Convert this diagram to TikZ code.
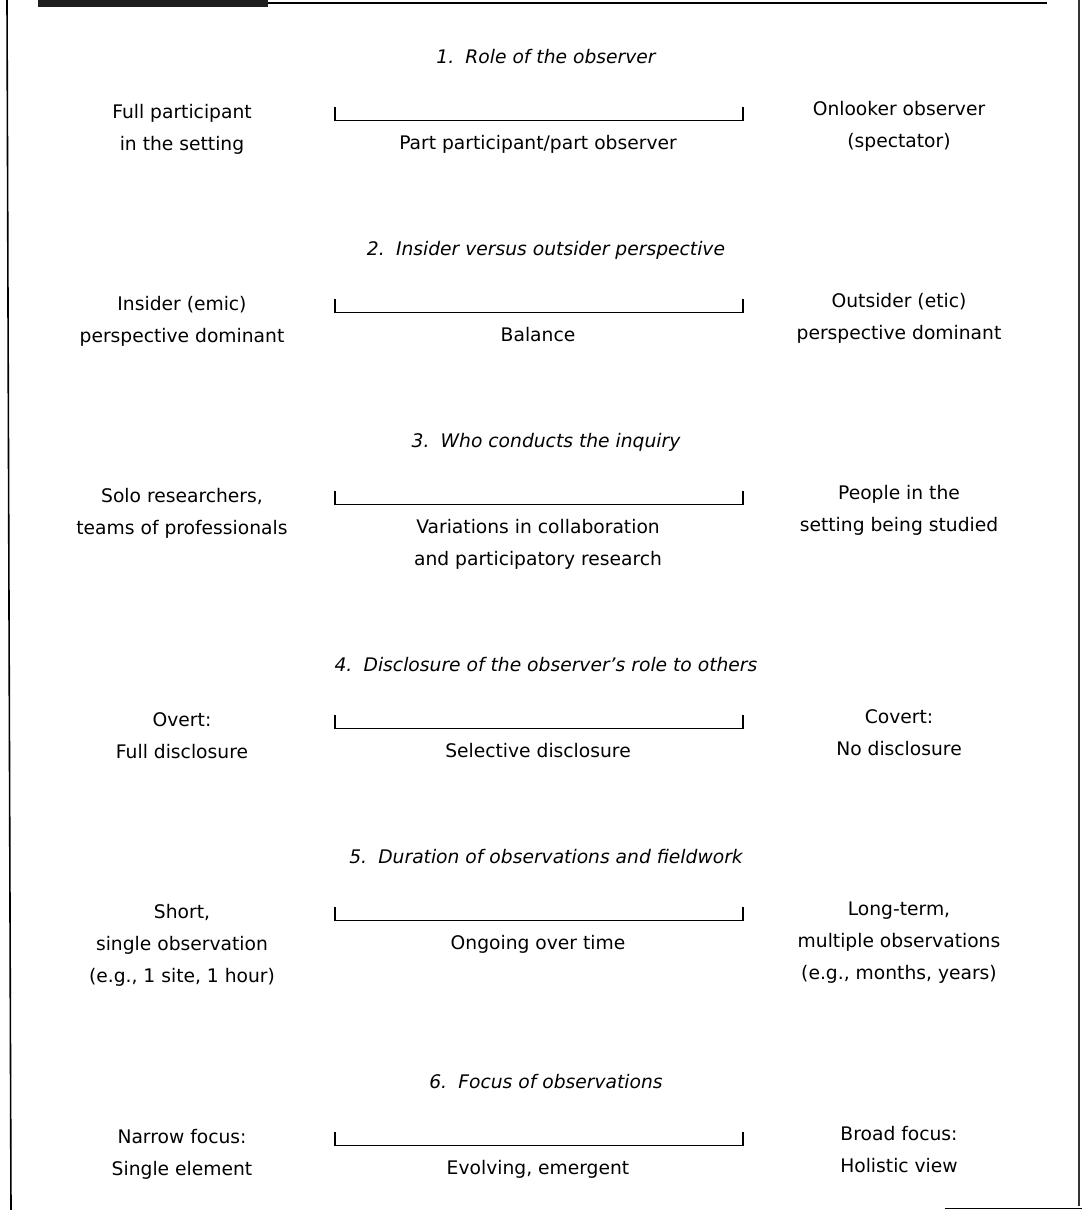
\documentclass[tikz,border=0pt]{standalone}
\usepackage{fontspec}
\setmainfont{DejaVu Sans}
\begin{document}
\begin{tikzpicture}[x=1pt,y=-1pt,
  txt/.style={inner sep=0pt,anchor=base,font=\fontsize{18.7}{32}\selectfont},
  ttl/.style={txt,font=\fontsize{18.7}{32}\selectfont\itshape},
  scaleline/.style={line width=1.3pt,black},
  tickmark/.style={line width=1.6pt,black},
  frameline/.style={line width=1.6pt,black}]
\useasboundingbox (0,0) rectangle (1082,1210);

% page frame with the dark tab at the top left
\fill[black!88] (38,0) rectangle (268,6.5);
\draw[frameline] (268,3) -- (1047,3);
\draw[frameline] (7,0) -- (11,1210);
\draw[line width=1.4pt,black!80] (1079,0) -- (1079,1206);
\draw[frameline] (945,1208.5) -- (1082,1208.5);

% one continuum: end coordinates and tick marks
\newcommand\continuum[2]{%
  \coordinate (#1-l) at (335,#2);
  \coordinate (#1-r) at (743,#2);
  \draw[scaleline] (#1-l) -- (#1-r);
  \draw[tickmark] (#1-l) -- ++(0,-14);
  \draw[tickmark,line width=2.2pt] (#1-r) -- ++(0,-14);}

% 1. Role of the observer (T = 58)
\node[ttl] (t1) at (546,63) {1.\hspace{0.6em}Role of the observer};
\node[txt] (l1a) at (182,118) {Full participant};
\node[txt] (l1b) at (182,150) {in the setting};
\continuum{s1}{120.5}
\node[txt] (c1a) at (538,149) {Part participant/part observer};
\node[txt] (r1a) at (899,115) {Onlooker observer};
\node[txt] (r1b) at (899,147) {(spectator)};

% 2. Insider versus outsider perspective (T = 250)
\node[ttl] (t2) at (546,255) {2.\hspace{0.6em}Insider versus outsider perspective};
\node[txt] (l2a) at (182,310) {Insider (emic)};
\node[txt] (l2b) at (182,342) {perspective dominant};
\continuum{s2}{312.5}
\node[txt] (c2a) at (538,341) {Balance};
\node[txt] (r2a) at (899,307) {Outsider (etic)};
\node[txt] (r2b) at (899,339) {perspective dominant};

% 3. Who conducts the inquiry (T = 442)
\node[ttl] (t3) at (546,447) {3.\hspace{0.6em}Who conducts the inquiry};
\node[txt] (l3a) at (182,502) {Solo researchers,};
\node[txt] (l3b) at (182,534) {teams of professionals};
\continuum{s3}{504.5}
\node[txt] (c3a) at (538,533) {Variations in collaboration};
\node[txt] (c3b) at (538,565) {and participatory research};
\node[txt] (r3a) at (899,499) {People in the};
\node[txt] (r3b) at (899,531) {setting being studied};

% 4. Disclosure of the observer's role to others (T = 666)
\node[ttl] (t4) at (546,671) {4.\hspace{0.6em}Disclosure of the observer’s role to others};
\node[txt] (l4a) at (182,726) {Overt:};
\node[txt] (l4b) at (182,758) {Full disclosure};
\continuum{s4}{728.5}
\node[txt] (c4a) at (538,757) {Selective disclosure};
\node[txt] (r4a) at (899,723) {Covert:};
\node[txt] (r4b) at (899,755) {No disclosure};

% 5. Duration of observations and fieldwork (T = 858)
\node[ttl] (t5) at (546,863) {5.\hspace{0.6em}Duration of observations and fieldwork};
\node[txt] (l5a) at (182,918) {Short,};
\node[txt] (l5b) at (182,950) {single observation};
\node[txt] (l5c) at (182,982) {(e.g., 1 site, 1 hour)};
\continuum{s5}{920.5}
\node[txt] (c5a) at (538,949) {Ongoing over time};
\node[txt] (r5a) at (899,915) {Long-term,};
\node[txt] (r5b) at (899,947) {multiple observations};
\node[txt] (r5c) at (899,979) {(e.g., months, years)};

% 6. Focus of observations (T = 1083)
\node[ttl] (t6) at (546,1088) {6.\hspace{0.6em}Focus of observations};
\node[txt] (l6a) at (182,1143) {Narrow focus:};
\node[txt] (l6b) at (182,1175) {Single element};
\continuum{s6}{1145.5}
\node[txt] (c6a) at (538,1174) {Evolving, emergent};
\node[txt] (r6a) at (899,1140) {Broad focus:};
\node[txt] (r6b) at (899,1172) {Holistic view};
\end{tikzpicture}
\end{document}
